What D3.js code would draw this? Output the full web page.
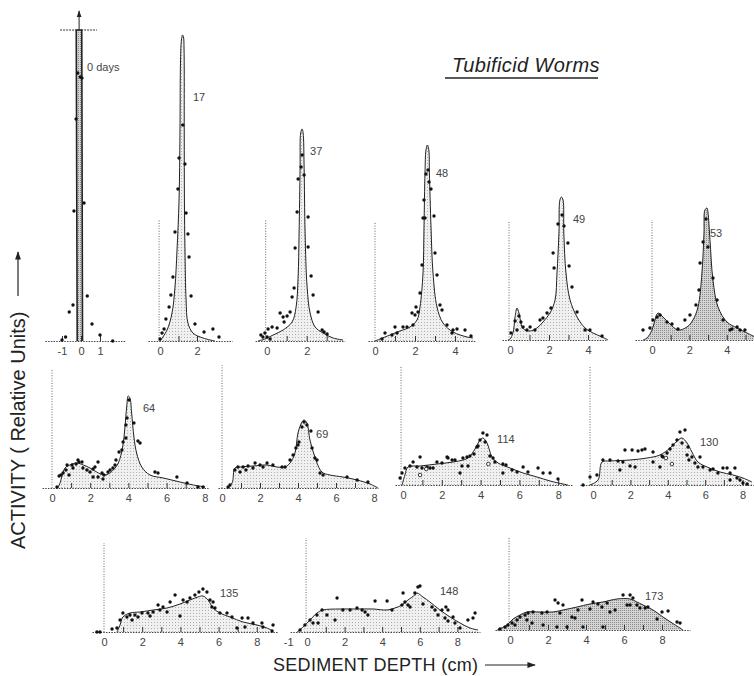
<!DOCTYPE html>
<html><head><meta charset="utf-8">
<script src="https://cdn.jsdelivr.net/npm/d3@7"></script>
<style>
html,body{margin:0;padding:0;background:#fff;}
svg{display:block;}
</style></head><body>
<svg id="chart" width="754" height="676"></svg>
<script>
// ================= DATA (depth in cm, activity in relative units) =================
const panelNames = ["0 days","17","37","48","49","53","64","69","114","130","135","148","173"];

const curve0 = [[-0.2,0],[-0.25,31.1],[0.04,31.1],[0.08,0]];
const points0 = [[-0.17,26.8],[-0.04,26.4],[0.05,26.3],[-0.26,22.2],[-0.37,13.0],[0.16,13.8],[0.33,4.5],[-0.42,3.6],[0.58,1.7],[-0.62,2.9],[-0.81,0.4],[-1.0,0.1],[1.0,0.6],[1.67,0.0]];

const curve17 = [[0,0],[0.38,1.1],[0.65,2.8],[0.81,5.4],[0.92,9.1],[1.03,14.1],[1.08,20.8],[1.11,28.1],[1.16,30.1],[1.22,30.6],[1.27,30.4],[1.30,29.1],[1.31,20.8],[1.32,14.1],[1.35,9.1],[1.41,4.1],[1.51,1.8],[1.78,0.8],[2.32,0.3],[2.97,0]];
const points17 = [[1.23,21.6],[1.03,18.3],[1.35,17.7],[0.97,15.2],[1.41,12.8],[0.81,10.9],[1.51,10.7],[1.57,8.4],[0.70,6.4],[0.59,4.6],[1.68,4.5],[0.49,3.4],[0.32,2.2],[1.89,1.7],[0.22,1.2],[0.11,0.8],[2.86,1.2],[2.38,0.9],[3.19,0.4],[0,0.2]];

const curve37 = [[-0.44,0],[-0.09,0.2],[0.32,0.6],[0.82,1.1],[1.27,1.9],[1.47,3.4],[1.57,6.4],[1.62,10.8],[1.67,17.4],[1.70,20.8],[1.77,21.2],[1.82,20.8],[1.87,17.4],[1.92,10.8],[2.02,5.4],[2.17,2.8],[2.42,1.4],[2.82,0.8],[3.32,0.3],[3.82,0.1]];
const points37 = [[1.77,18.6],[1.72,17.4],[1.87,16.6],[1.57,16.2],[1.52,12.9],[2.07,12.4],[1.42,9.3],[2.07,9.4],[1.37,5.3],[2.22,6.5],[2.32,4.6],[1.27,4.4],[1.17,2.9],[2.57,2.9],[0.67,2.8],[0.82,2.4],[1.02,2.5],[0.87,1.9],[0.27,1.4],[0.07,1.2],[0.52,1.3],[-0.09,0.8],[-0.29,0.6],[-0.19,0.4],[0.02,0.4],[2.77,1.1],[2.87,0.9],[3.02,0.7],[0.17,0.2]];

const curve48 = [[0,0],[0.25,0.2],[0.75,0.6],[1.25,1.0],[1.75,1.4],[2.1,2.1],[2.25,3.4],[2.4,6.8],[2.45,11.4],[2.5,16.8],[2.55,19.1],[2.62,19.6],[2.69,19.1],[2.72,16.8],[2.8,11.4],[2.9,6.8],[3.1,3.4],[3.4,1.8],[3.9,0.9],[4.6,0.4],[4.9,0.3]];
const points48 = [[2.65,17.1],[2.55,16.7],[2.7,15.9],[2.45,14.1],[2.8,15.2],[2.4,12.3],[2.5,12.3],[2.95,12.5],[2.35,7.6],[3.0,8.8],[3.1,6.6],[2.25,4.8],[2.05,3.4],[1.85,2.8],[2.0,2.6],[2.15,2.9],[3.25,3.6],[3.35,3.1],[1.4,1.4],[1.6,1.4],[1.0,1.4],[1.9,1.6],[1.1,0.8],[0.85,0.6],[0.5,0.8],[3.6,1.6],[3.9,1.1],[4.1,1.2],[3.85,0.8],[4.5,1.1],[4.8,0.5],[0.35,0.2]];

const curve49 = [[-0.1,0],[0,0.1],[0.15,0.7],[0.26,2.3],[0.36,3.2],[0.46,2.7],[0.62,1.3],[0.77,1.0],[1.03,0.9],[1.38,1.2],[1.69,1.8],[2.05,2.7],[2.31,4.0],[2.41,6.7],[2.51,10.7],[2.56,14.0],[2.64,14.3],[2.72,14.0],[2.76,10.7],[2.87,6.7],[3.08,4.0],[3.44,2.3],[3.85,1.2],[4.26,0.7],[4.72,0.3],[5.03,0]];
const points49 = [[2.67,12.5],[2.46,11.6],[2.77,11.4],[2.97,9.7],[2.21,8.7],[3.03,7.4],[2.26,7.2],[3.18,5.3],[2.1,3.2],[1.9,2.7],[1.69,2.2],[1.54,2.0],[3.44,2.8],[3.85,1.0],[4.1,1.0],[4.72,0.4],[0.26,1.9],[0.46,2.4],[0.56,1.8],[0.36,1.0],[0.67,1.3],[1.03,1.3],[1.28,1.0],[0.87,1.0],[0.05,0.7]];

const curve53 = [[-0.48,0],[-0.27,0.2],[0,1.0],[0.16,2.0],[0.32,2.7],[0.59,2.3],[0.96,1.6],[1.39,1.0],[1.87,1.3],[2.19,2.0],[2.46,3.3],[2.67,6.7],[2.78,10.7],[2.83,13.0],[2.94,13.2],[2.99,12.8],[3.10,10.0],[3.26,6.0],[3.53,3.3],[4.01,1.8],[4.55,1.2],[5.08,0.7],[5.51,0.3]];
const points53 = [[2.89,12.1],[2.73,9.8],[2.99,9.3],[2.57,7.7],[3.26,6.2],[2.51,5.0],[3.48,4.0],[2.35,3.5],[2.03,2.5],[1.76,2.0],[1.39,1.1],[1.07,1.6],[0.8,1.8],[0.43,2.5],[0.27,2.3],[0.05,2.0],[-0.48,1.0],[-0.11,1.2],[3.8,2.0],[4.17,1.0],[4.55,1.3],[4.71,1.0],[4.97,1.0],[4.28,1.1]];

const curve64 = [[0.25,0],[0.38,0.3],[0.51,1.1],[0.68,2.0],[0.94,2.3],[1.29,2.5],[1.64,2.3],[1.99,2.0],[2.34,1.6],[2.69,1.3],[2.95,1.4],[3.21,1.8],[3.47,2.5],[3.70,4.1],[3.82,6.1],[3.91,8.1],[3.99,9.2],[4.08,9.0],[4.17,7.5],[4.29,5.1],[4.43,3.5],[4.70,2.1],[5.13,1.3],[5.83,1.0],[6.70,0.6],[7.40,0.3],[8.01,0.1]];
const points64 = [[4.03,8.8],[3.93,7.0],[4.29,6.5],[3.87,6.3],[3.87,5.0],[4.5,4.7],[3.72,4.6],[4.61,4.5],[3.66,3.8],[3.51,3.6],[3.35,2.8],[3.30,2.3],[3.19,2.0],[3.04,1.8],[2.93,1.6],[2.72,1.3],[2.62,1.5],[2.41,2.6],[2.25,2.1],[2.15,1.9],[1.99,1.6],[1.83,1.8],[1.62,2.0],[1.57,2.6],[1.36,2.8],[1.41,2.6],[1.26,2.4],[1.10,2.0],[1.05,2.3],[0.79,2.3],[0.73,1.8],[0.58,1.5],[0.47,1.3],[0.37,1.2],[0.89,1.3],[2.15,1.1],[2.41,1.1],[2.67,0.9],[5.39,1.6],[5.55,1.5],[6.54,1.1],[7.07,0.5],[7.64,0.1],[7.91,0.1],[0.26,0.1]];

const curve69 = [[0.26,0],[0.53,0.5],[0.68,2.0],[0.95,2.1],[1.63,2.2],[2.37,2.3],[2.89,2.1],[3.32,2.1],[3.58,2.5],[3.84,3.5],[4.0,5.5],[4.21,6.6],[4.32,6.8],[4.47,6.5],[4.63,4.8],[4.89,3.1],[5.26,1.6],[5.68,1.3],[6.37,1.1],[7.11,0.8],[7.79,0.4],[8.21,0]];
const points69 = [[4.32,6.6],[4.21,6.1],[4.47,6.3],[4.68,5.7],[4.05,4.6],[4.0,4.3],[3.89,4.0],[4.74,4.0],[4.89,3.0],[5.0,2.8],[3.74,3.3],[3.58,2.8],[3.32,2.1],[3.16,2.1],[5.16,1.5],[5.32,1.3],[2.68,2.3],[2.37,2.5],[2.0,2.3],[1.74,2.5],[1.37,2.2],[1.11,2.1],[0.84,2.1],[0.68,1.8],[0.95,1.6],[1.26,1.8],[1.63,2.0],[2.16,2.1],[6.58,1.1],[7.11,0.8],[7.68,0.6],[0.42,0.3],[0.32,0.1]];

const curve114 = [[-0.05,0],[0.10,1.0],[0.26,1.8],[0.88,1.9],[1.75,2.1],[2.58,2.3],[3.35,2.7],[3.71,3.6],[3.97,4.5],[4.12,4.7],[4.33,4.2],[4.59,2.8],[4.90,2.2],[5.52,1.7],[6.19,1.2],[6.91,0.8],[7.58,0.4],[8.25,0.1],[8.51,0]];
const points114 = [[4.12,5.2],[4.33,5.0],[3.97,4.5],[4.23,4.3],[3.87,3.9],[3.81,3.8],[3.66,3.1],[3.45,2.9],[3.30,2.8],[3.09,2.7],[3.35,1.9],[3.04,1.9],[2.94,1.2],[4.48,2.9],[4.64,2.7],[4.74,2.3],[5.15,2.1],[5.31,2.0],[5.62,1.5],[5.88,1.3],[6.19,1.8],[6.44,1.3],[6.96,1.7],[7.22,1.2],[7.58,1.2],[7.99,0.6],[-0.15,0.7],[-0.05,1.2],[0.10,1.7],[0.36,1.9],[0.52,2.3],[0.88,2.8],[0.72,1.8],[0.98,1.7],[1.24,1.8],[1.39,1.7],[1.55,1.7],[1.75,2.3],[2.01,2.2],[2.27,2.8],[2.32,2.7],[2.53,2.5],[2.68,2.5],[5.15,1.2]];
const open114 = [[0.88,1.0],[4.4,2.1],[1.2,1.6]];

const curve130 = [[-0.16,0],[0.27,0.5],[0.48,2.3],[0.91,2.4],[1.98,2.5],[2.89,2.7],[3.58,3.0],[4.12,3.7],[4.55,4.5],[4.76,4.7],[5.03,4.2],[5.29,3.3],[5.61,2.3],[6.10,1.8],[6.79,1.3],[7.49,1.0],[8.02,0.7],[8.50,0.3]];
const points130 = [[4.65,5.3],[4.92,5.5],[4.49,4.5],[4.76,4.2],[4.28,4.0],[4.12,3.6],[3.96,3.2],[3.74,2.8],[5.08,3.8],[5.03,3.0],[5.29,2.8],[5.72,2.8],[5.13,2.5],[5.45,2.2],[5.61,1.8],[5.88,1.8],[6.26,1.5],[6.42,1.6],[6.68,1.2],[6.95,1.7],[7.17,1.7],[7.33,1.2],[7.59,1.7],[7.33,0.5],[7.70,0.7],[7.86,0.5],[8.02,0.2],[8.24,0.1],[1.71,3.5],[2.09,3.5],[2.41,3.4],[2.62,3.5],[2.78,3.6],[3.21,3.3],[3.69,2.9],[1.60,2.3],[1.44,1.5],[1.98,1.9],[2.25,1.8],[3.21,2.3],[3.58,1.8],[-0.53,0],[-0.16,0.8],[0.21,1.0],[0.53,2.5],[0.91,2.5],[1.34,2.4]];
const open130 = [[4.22,2.1],[3.9,2.7]];

const curve135 = [[0.68,0],[0.84,0.7],[0.99,1.5],[1.36,1.9],[1.88,2.0],[2.57,2.2],[3.30,2.4],[3.98,2.8],[4.50,3.2],[4.92,3.5],[5.18,3.6],[5.45,3.2],[5.71,2.4],[6.07,1.9],[6.60,1.5],[7.28,1.0],[8.01,0.7],[8.53,0.4],[8.85,0.1]];
const points135 = [[5.18,4.3],[4.97,4.0],[5.39,4.0],[4.76,3.7],[4.50,3.4],[4.35,3.0],[4.14,3.2],[3.72,3.7],[3.46,3.0],[3.09,2.5],[2.83,2.7],[3.30,2.0],[2.93,2.2],[3.98,1.6],[5.55,3.2],[5.71,3.0],[5.65,2.5],[5.81,2.4],[6.07,1.9],[6.44,1.9],[6.70,1.5],[6.96,0.4],[7.38,0.5],[7.23,1.4],[7.54,1.4],[7.80,0.9],[8.27,0.9],[8.32,0.5],[8.85,0.7],[8.80,0.1],[0.99,1.9],[1.20,1.5],[1.36,1.7],[1.47,1.2],[1.62,1.7],[1.78,1.5],[1.99,1.9],[2.30,1.9],[2.41,1.6],[2.57,2.0],[0.84,1.2],[0.42,0.3],[-0.37,0],[-0.21,0],[0.68,0.4]];

const curve148 = [[-0.53,0],[-0.21,0.5],[0.16,1.2],[0.53,1.9],[0.85,2.2],[1.76,2.3],[2.66,2.3],[3.51,2.3],[4.26,2.2],[4.68,2.4],[5.05,2.7],[5.37,3.2],[5.74,3.7],[5.85,3.9],[6.17,3.5],[6.54,3.0],[7.07,2.2],[7.61,1.5],[8.14,0.9],[8.67,0.4],[9.10,0.2]];
const points148 = [[-0.37,0.2],[-0.11,0.7],[0.16,1.2],[0.32,0.9],[0.59,0.9],[0.53,1.7],[0.80,2.2],[1.06,1.7],[1.49,1.2],[1.60,3.4],[1.91,2.2],[2.29,2.2],[2.66,2.4],[2.93,2.2],[3.09,2.0],[3.24,1.7],[3.62,3.1],[4.26,3.1],[4.52,2.2],[5.05,2.7],[5.21,3.0],[5.11,3.9],[5.37,2.7],[5.48,2.5],[5.90,4.5],[6.01,4.6],[5.74,3.9],[6.17,2.8],[6.65,2.5],[6.81,2.2],[7.18,2.2],[7.39,2.5],[7.50,2.2],[7.77,1.5],[6.97,1.7],[7.34,1.4],[7.50,1.1],[7.87,0.9],[8.14,0.4],[8.56,1.2],[8.83,1.4],[8.94,1.9]];

const curve173 = [[-0.68,0],[-0.16,0.5],[0.16,1.1],[0.53,1.5],[0.89,1.8],[1.58,1.8],[2.26,1.8],[2.79,2.0],[3.53,2.3],[4.21,2.6],[4.89,2.8],[5.63,3.1],[6.32,3.1],[6.68,2.8],[7.0,2.5],[7.53,2.0],[8.05,1.3],[8.53,0.7],[8.95,0.2],[9.1,0]];
const points173 = [[-0.53,0.1],[-0.26,0.3],[-0.11,0.5],[0.11,0.7],[0.37,1.0],[0.26,0.5],[0.53,1.3],[0.79,1.5],[0.95,1.7],[1.21,1.8],[1.68,1.7],[1.95,1.8],[2.37,3.0],[2.53,2.7],[2.79,2.5],[2.63,1.7],[3.26,1.3],[3.42,1.2],[3.58,2.0],[3.79,3.0],[4.21,2.1],[4.37,2.8],[4.63,2.6],[4.84,2.3],[5.11,2.7],[5.26,1.8],[5.53,2.0],[5.95,3.5],[6.32,3.5],[6.47,3.2],[6.16,2.5],[6.32,2.5],[6.68,2.5],[6.84,2.2],[7.11,2.2],[7.26,2.3],[7.74,1.1],[8.0,1.8],[8.32,1.9],[8.79,0.8],[8.95,0.7],[0.89,1.0],[1.16,0.7],[1.74,0.5],[2.47,0.3],[3.0,0.3],[3.84,0.3],[4.89,0.3]];

const tickLabels = [[-1,0,1],[0,2],[0,2],[0,2,4],[0,2,4],[0,2,4],[0,2,4,6,8],[0,2,4,6,8],[0,2,4,6,8],[0,2,4,6,8],[0,2,4,6,8],[-1,0,2,4,6,8],[0,2,4,6,8]];
const tickMarks = [[-1,0,1],[1,2],[1,2,3],[1,2,3,4],[1,2,3,4],[1,2,3,4,5],[1,2,3,4,5,6,7],[1,2,3,4,5,6,7],[1,2,3,4,5,6,7,8],[1,2,3,4,5,6,7,8],[1,2,3,4,5,6,7,8],[1,2,3,4,5,6,7,8],[1,2,3,4,5,6,7,8]];

const curves = [curve0,curve17,curve37,curve48,curve49,curve53,curve64,curve69,curve114,curve130,curve135,curve148,curve173];
const points = [points0,points17,points37,points48,points49,points53,points64,points69,points114,points130,points135,points148,points173];
const openPoints = [[],[],[],[],[],[],[],[],open114,open130,[],[],[]];

// ================= LAYOUT (pixel placement of each small panel) =================
const layout = [
 {x0:81,   k:19,   base:341, dom:[-1.9,2.3],  ref:null, refX:0,     lab:[0.32,27.0], dark:true},
 {x0:160,  k:18.5, base:341, dom:[-0.65,3.9], ref:12.1, refX:-0.05, lab:[1.78,24.0]},
 {x0:266.7,k:20,   base:341, dom:[-0.58,3.9], ref:12.1, refX:-0.05, lab:[2.17,18.6]},
 {x0:375,  k:20,   base:341, dom:[-0.35,5.0], ref:11.9, refX:0,     lab:[3.05,16.4]},
 {x0:510,  k:19.5, base:340, dom:[-0.41,4.92],ref:11.8, refX:-0.05, lab:[3.23,11.7]},
 {x0:652,  k:18.7, base:340, dom:[-0.91,5.45],ref:12.0, refX:0,     lab:[3.10,10.3], dark:true},
 {x0:52,   k:19.1, base:488, dom:[-0.52,8.17],ref:11.8, refX:0,     lab:[4.76,7.6]},
 {x0:222,  k:19,   base:488, dom:[-0.21,8.21],ref:12.3, refX:0,     lab:[4.95,5.0]},
 {x0:403,  k:19.4, base:485, dom:[-0.41,8.71],ref:11.8, refX:-0.1,  lab:[4.85,4.2]},
 {x0:593,  k:18.7, base:485, dom:[-0.7,8.6],  ref:11.8, refX:-0.16, lab:[5.72,3.9]},
 {x0:104,  k:19.1, base:632, dom:[-0.63,9.1], ref:8.9,  refX:0,     lab:[6.07,3.5]},
 {x0:307,  k:18.8, base:632, dom:[-0.9,9.2],  ref:9.4,  refX:-0.05, lab:[7.07,3.7]},
 {x0:510,  k:19,   base:630, dom:[-0.79,9.47],ref:9.3,  refX:-0.05, lab:[7.1,3.0], dark:true}
];
const UNIT_PX = 10;

// ================= DRAW =================
const svg = d3.select("#chart");
const defs = svg.append("defs");
const pl = defs.append("pattern").attr("id","stipL").attr("width",3).attr("height",3).attr("patternUnits","userSpaceOnUse");
pl.append("rect").attr("width",3).attr("height",3).attr("fill","#f0f0f0");
pl.append("rect").attr("x",1).attr("y",1).attr("width",1).attr("height",1).attr("fill","#b0b0b0");
const pd = defs.append("pattern").attr("id","stipD").attr("width",2).attr("height",2).attr("patternUnits","userSpaceOnUse");
pd.append("rect").attr("width",2).attr("height",2).attr("fill","#d4d4d4");
pd.append("rect").attr("x",0).attr("y",0).attr("width",1).attr("height",1).attr("fill","#8c8c8c");
const mk = defs.append("marker").attr("id","arrow").attr("viewBox","0 0 10 10").attr("refX",9).attr("refY",5)
  .attr("markerWidth",7).attr("markerHeight",7).attr("orient","auto-start-reverse");
mk.append("path").attr("d","M0,1.5 L10,5 L0,8.5 Z").attr("fill","#222");

const font = "'Liberation Sans', Arial, sans-serif";

layout.forEach((L, i) => {
  const x = d3.scaleLinear().domain(L.dom).range([L.x0 + L.dom[0]*L.k, L.x0 + L.dom[1]*L.k]);
  const y = d3.scaleLinear().domain([0, 10]).range([L.base, L.base - 10*UNIT_PX]);
  const g = svg.append("g");
  const cv = i === 0 ? d3.curveLinear : d3.curveCatmullRom.alpha(0.5);

  if (L.ref !== null) {
    g.append("line").attr("x1", x(L.refX)).attr("x2", x(L.refX)).attr("y1", y(0)).attr("y2", y(L.ref))
      .attr("stroke","#666").attr("stroke-width",1).attr("stroke-dasharray","1,1.6");
  }
  g.append("path").datum(curves[i])
    .attr("d", d3.area().x(d => x(d[0])).y0(y(0)).y1(d => y(d[1])).curve(cv))
    .attr("fill", L.dark ? "url(#stipD)" : "url(#stipL)").attr("stroke","none");
  const axM = g.append("g").attr("transform",`translate(0,${y(0)})`)
    .call(d3.axisBottom(x).tickValues(tickMarks[i]).tickSize(-5).tickSizeOuter(0).tickFormat(""));
  axM.select(".domain").attr("stroke","#444").attr("stroke-dasharray","1.5,1.2");
  axM.selectAll(".tick line").attr("stroke","#333");
  const axL = g.append("g").attr("transform",`translate(0,${y(0)})`)
    .call(d3.axisBottom(x).tickValues(tickLabels[i]).tickSize(0).tickPadding(6).tickFormat(d => String(d)));
  axL.select(".domain").remove();
  axL.selectAll("text").attr("font-family",font).attr("font-size",11).attr("fill","#444");
  g.append("path").datum(curves[i])
    .attr("d", d3.line().x(d => x(d[0])).y(d => y(d[1])).curve(cv))
    .attr("fill","none").attr("stroke","#222").attr("stroke-width", i === 0 ? 1.6 : 1);
  g.selectAll("circle.pt").data(points[i]).join("circle").attr("class","pt")
    .attr("cx", d => x(d[0])).attr("cy", d => y(d[1])).attr("r",1.7).attr("fill","#111");
  g.selectAll("circle.op").data(openPoints[i]).join("circle").attr("class","op")
    .attr("cx", d => x(d[0])).attr("cy", d => y(d[1])).attr("r",1.8).attr("fill","#fff").attr("stroke","#222").attr("stroke-width",0.9);
  g.append("text").attr("x", x(L.lab[0])).attr("y", y(L.lab[1]))
    .attr("font-family",font).attr("font-size",11).attr("fill","#444").text(panelNames[i]);

  if (i === 0) {
    const top = curve0[1][1];
    g.append("line").attr("x1", x(-1.1)).attr("x2", x(0.84)).attr("y1", y(top)).attr("y2", y(top))
      .attr("stroke","#333").attr("stroke-width",1).attr("stroke-dasharray","2,1");
    g.append("line").attr("x1", x(-0.1)).attr("x2", x(-0.1)).attr("y1", y(top)).attr("y2", y(top + 1.9))
      .attr("stroke","#222").attr("stroke-width",1).attr("marker-end","url(#arrow)");
  }
});

// Title
svg.append("text").attr("x",452).attr("y",72).attr("font-family",font).attr("font-style","italic")
  .attr("font-size",20).attr("letter-spacing",0.4).attr("fill","#222").text("Tubificid Worms");
svg.append("line").attr("x1",445).attr("x2",598).attr("y1",78).attr("y2",78).attr("stroke","#222").attr("stroke-width",1.3);

// Y-axis label
svg.append("text").attr("transform","translate(25,549) rotate(-90)").attr("font-family",font)
  .attr("font-size",20).attr("fill","#222").text("ACTIVITY ( Relative Units)");
svg.append("line").attr("x1",18).attr("x2",18).attr("y1",296).attr("y2",252)
  .attr("stroke","#222").attr("stroke-width",1.2).attr("marker-end","url(#arrow)");

// X-axis label
svg.append("text").attr("x",273).attr("y",671).attr("font-family",font)
  .attr("font-size",18).attr("letter-spacing",0.3).attr("fill","#222").text("SEDIMENT DEPTH (cm)");
svg.append("line").attr("x1",485).attr("x2",535).attr("y1",665).attr("y2",665)
  .attr("stroke","#222").attr("stroke-width",1.2).attr("marker-end","url(#arrow)");
</script>
</body></html>
